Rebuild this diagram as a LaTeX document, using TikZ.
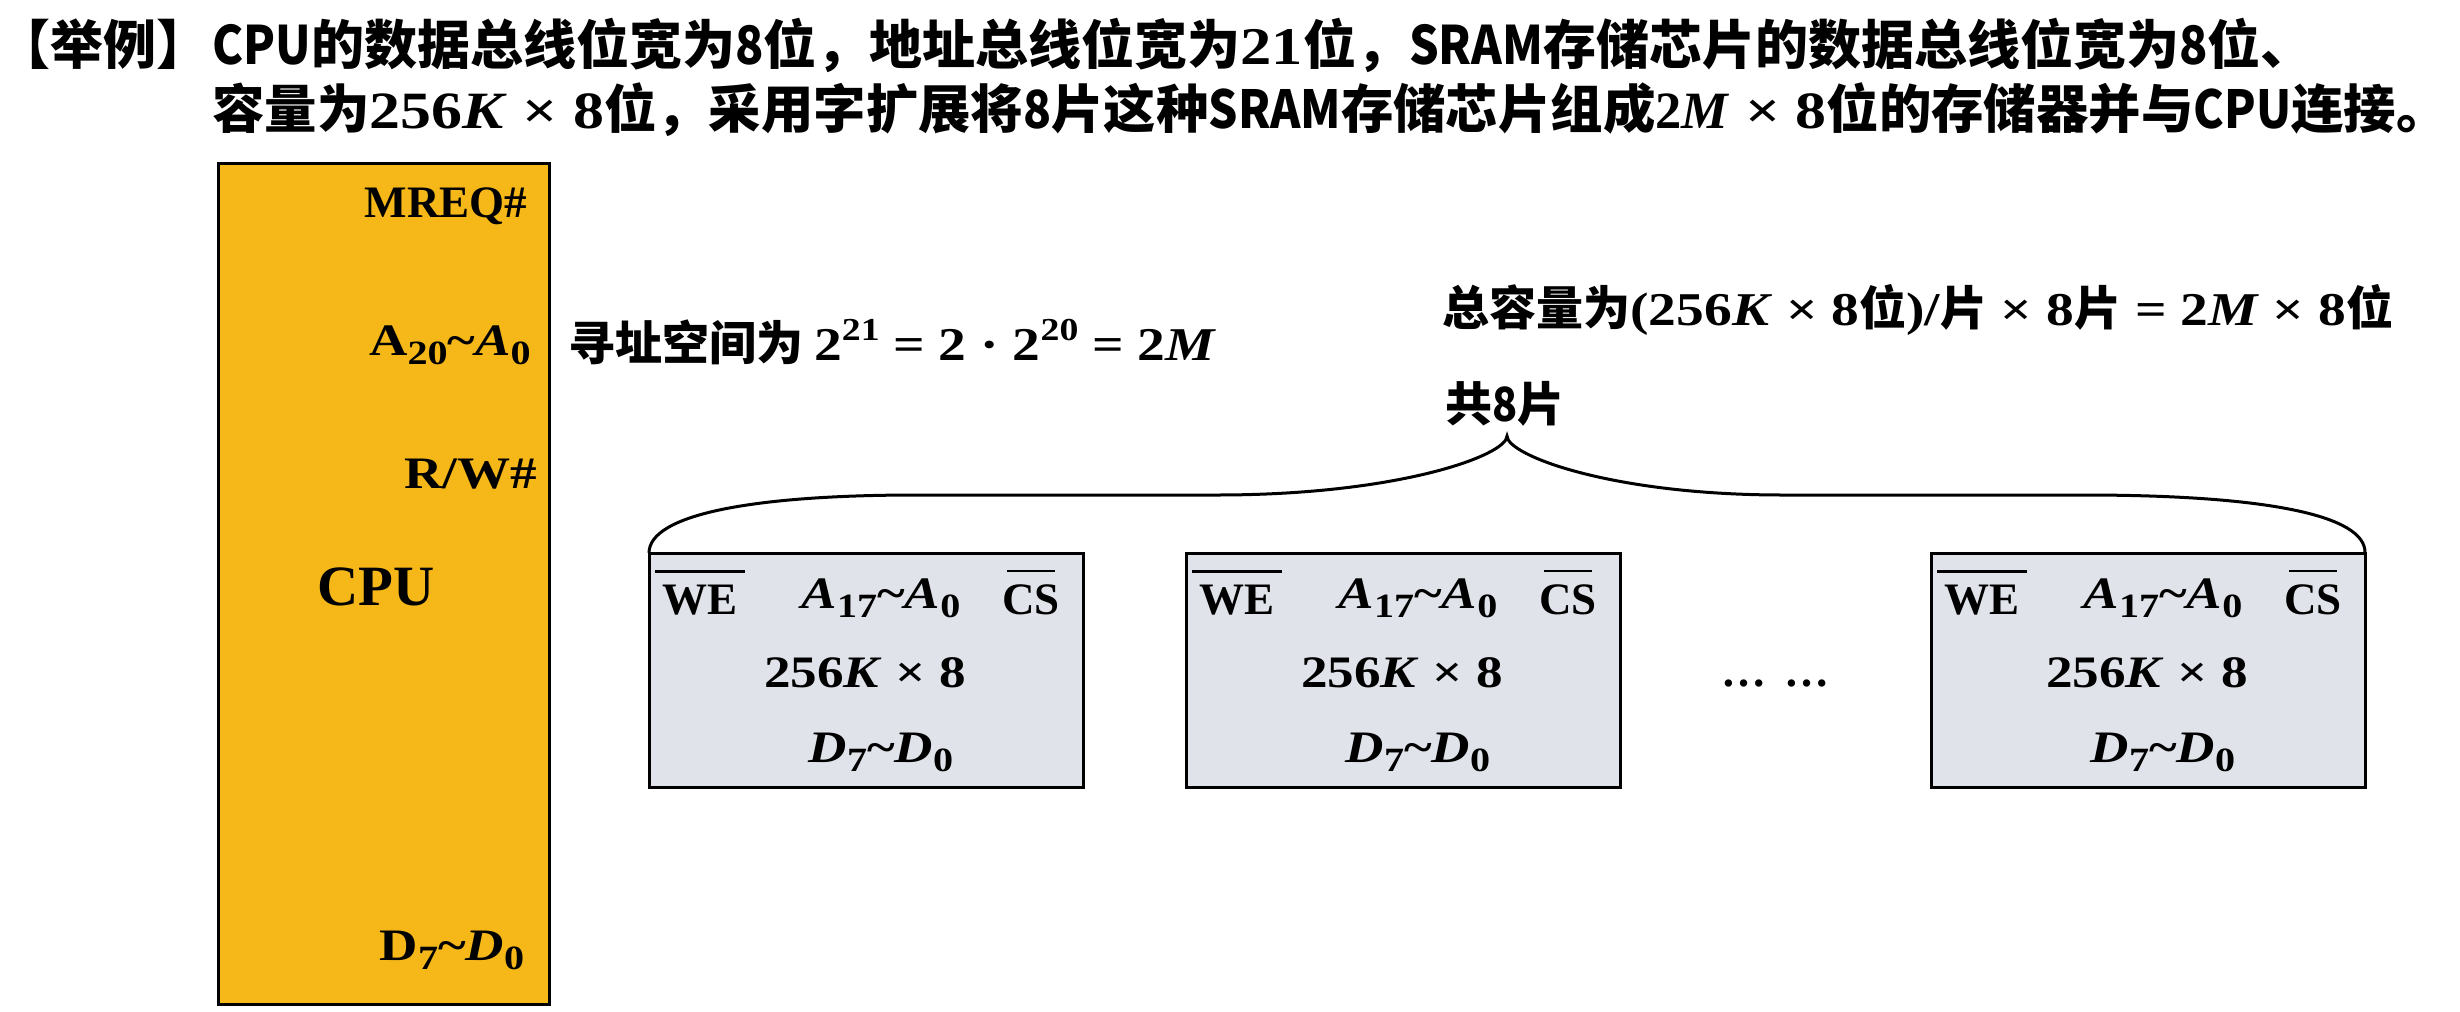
\documentclass[tikz,border=0pt]{standalone}
\usepackage{xcolor}
\usepackage{fontspec}
\setmainfont{Liberation Serif}
\newfontfamily\cjk{Noto Sans CJK SC}
\newfontfamily\nar{Noto Sans CJK SC}[FakeStretch=.88]
\newfontfamily\mat{Liberation Serif}[FakeStretch=1.18]
\definecolor{cpuyellow}{HTML}{F5B818}
\definecolor{chipgray}{HTML}{E0E3EA}
\newcommand{\ser}[1]{{\mat #1}}
\newcommand{\lat}[1]{{\nar #1}}
\newcommand{\tld}{\textasciitilde}
\newcommand{\dn}[1]{\raisebox{-.22em}{\fontsize{17}{18}\selectfont #1}}
\newcommand{\up}[1]{\raisebox{.42em}{\fontsize{16}{18}\selectfont #1}}
\newcommand{\lowbar}[2]{\leavevmode\vbox{\hrule height 1.25pt\kern 6pt\hbox{\hspace{#1}#2\hspace{#1}}}}
\tikzset{
 head/.style={anchor=base west,inner sep=0pt,font=\fontsize{26.5}{30}\selectfont\bfseries\cjk},
 note/.style={anchor=base west,inner sep=0pt,font=\fontsize{23.5}{28}\selectfont\bfseries\cjk},
 pin/.style={anchor=base,inner sep=0pt,font=\fontsize{22.5}{26}\selectfont\bfseries},
 mpin/.style={anchor=base,inner sep=0pt,font=\fontsize{22.5}{26}\selectfont\bfseries\mat},
 cpubox/.style={draw=black,line width=1.5pt,fill=cpuyellow,anchor=north west,inner sep=0pt,outer sep=0pt,minimum width=165.5pt,minimum height=420.5pt},
 chipbox/.style={draw=black,line width=1.5pt,fill=chipgray,anchor=north west,inner sep=0pt,outer sep=0pt,minimum width=217pt,minimum height=117pt}
}
\begin{document}
\begin{tikzpicture}[x=.5pt,y=-.5pt]
\useasboundingbox (0,0) rectangle (2460,1011);
\node [head, name=h0] at (-3,65) {【举例】};
\node [head, name=h1] at (212,65) {\lat{CPU}的数据总线位宽为\lat{8}位，地址总线位宽为\ser{21}位，\lat{SRAM}存储芯片的数据总线位宽为\lat{8}位、};
\node [head, font=\fontsize{26.2}{30}\selectfont\bfseries\cjk, name=h2] at (212,128) {容量为\ser{256\textit{K} × 8}位，采用字扩展将\lat{8}片这种\lat{SRAM}存储芯片组成{\rmfamily 2\textit{M}}\ser{ × 8}位的存储器并与\lat{CPU}连接。};
% cpu
\node [cpubox, name=cpu] at (218,163) {};
\node [pin, name=p1] at (446,217) {MREQ\#};
\node [mpin, name=p2] at (450,355) {A\dn{20}\tld\textit{A}\dn{0}};
\node [mpin, name=p3] at (471,488) {R/W\#};
\node [pin, font=\fontsize{28.5}{32}\selectfont\bfseries, name=p4] at (376,605) {CPU};
\node [mpin, name=p5] at (452,960) {D\dn{7}\tld\textit{D}\dn{0}};
\node [note, name=n1] at (568,360) {寻址空间为 \ser{2\up{21} = 2 · 2\up{20} = 2\textit{M}}};
\node [note, name=n2] at (1442,325) {总容量为\ser{(256\textit{K} × 8}位\ser{)/}片\ser{ × 8}片\ser{ = 2\textit{M} × 8}位};
\node [note, name=n3] at (1445,421) {共\lat{8}片};
% chips
\node [chipbox, name=c1] at (649,553) {};
\node [chipbox, name=c2] at (1186,553) {};
\node [chipbox, name=c3] at (1931,553) {};
\node [pin, name=w1] at (700,614) {\lowbar{3.75pt}{WE}};
\node [mpin, name=a1] at (881,608) {\textit{A}\dn{17}\tld\textit{A}\dn{0}};
\node [pin, name=s1] at (1031,614) {\lowbar{-2.25pt}{CS}};
\node [mpin, name=k1] at (865,687) {256\textit{K} × 8};
\node [mpin, name=d1] at (881,762) {\textit{D}\dn{7}\tld\textit{D}\dn{0}};
\node [pin, name=w2] at (1237,614) {\lowbar{3.75pt}{WE}};
\node [mpin, name=a2] at (1418,608) {\textit{A}\dn{17}\tld\textit{A}\dn{0}};
\node [pin, name=s2] at (1568,614) {\lowbar{-2.25pt}{CS}};
\node [mpin, name=k2] at (1402,687) {256\textit{K} × 8};
\node [mpin, name=d2] at (1418,762) {\textit{D}\dn{7}\tld\textit{D}\dn{0}};
\node [pin, name=w3] at (1982,614) {\lowbar{3.75pt}{WE}};
\node [mpin, name=a3] at (2163,608) {\textit{A}\dn{17}\tld\textit{A}\dn{0}};
\node [pin, name=s3] at (2313,614) {\lowbar{-2.25pt}{CS}};
\node [mpin, name=k3] at (2147,687) {256\textit{K} × 8};
\node [mpin, name=d3] at (2163,762) {\textit{D}\dn{7}\tld\textit{D}\dn{0}};
\node [pin, name=dots] at (1775,686) {…\hspace{9pt}…};
% brace
\coordinate (t1) at (1507,436);
\draw [line width=1.5pt] (c1.north west) .. controls (649,515) and (750,495) .. (917,495) -- (1217,495) .. controls (1400,495) and (1507,455) .. (t1) .. controls (1507,455) and (1610,495) .. (1783,495) -- (2083,495) .. controls (2265,495) and (2366,515) .. (c3.north east);
\end{tikzpicture}
\end{document}
